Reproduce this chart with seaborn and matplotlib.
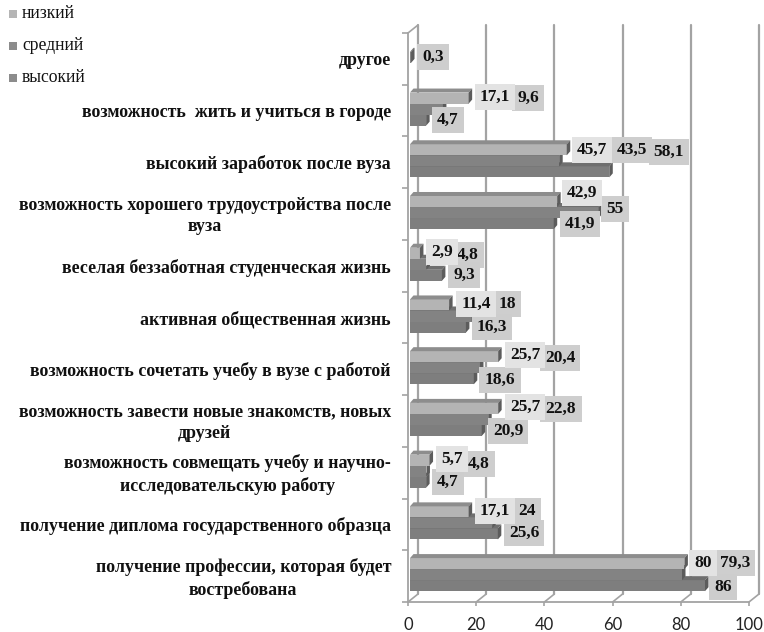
import numpy as np
import pandas as pd
import matplotlib
matplotlib.use("Agg")
import matplotlib.pyplot as plt
from matplotlib.patches import Polygon, Rectangle
import seaborn as sns

sns.set_style("white")
plt.rcParams['font.family'] = ['Liberation Serif', 'DejaVu Sans']

categories = [
    "другое",
    "возможность  жить и учиться в городе",
    "высокий заработок после вуза",
    "возможность хорошего трудоустройства после\nвуза",
    "веселая беззаботная студенческая жизнь",
    "активная общественная жизнь",
    "возможность сочетать учебу в вузе с работой",
    "возможность завести новые знакомств, новых\nдрузей",
    "возможность совмещать учебу и научно-\nисследовательскую работу",
    "получение диплома государственного образца",
    "получение профессии, которая будет\nвостребована",
]
low = [np.nan, 17.1, 45.7, 42.9, 2.9, 11.4, 25.7, 25.7, 5.7, 17.1, 80]
mid = [0.3, 9.6, 43.5, 55, 4.8, 18, 20.4, 22.8, 4.8, 24, 79.3]
high = [np.nan, 4.7, 58.1, 41.9, 9.3, 16.3, 18.6, 20.9, 4.7, 25.6, 86]
series = ["низкий", "средний", "высокий"]
x_ticks = [0, 20, 40, 60, 80, 100]

# label centres measured on the picture (px), labels were moved by hand there
low_pos = [None, (495, 97), (592, 150), (582, 193), (442, 252), (476, 304),
           (525, 355), (525, 407), (452, 459), (495, 511), (703, 563)]
mid_pos = [(433, 57), (528, 98), (632, 150), (615, 209), (468, 255), (507, 304),
           (560, 358), (561, 409), (479, 464), (527, 511), (735, 563)]
high_pos = [None, (448, 120), (669, 152), (580, 224), (464, 275), (492, 327),
            (500, 380), (508, 431), (448, 482), (524, 533), (723, 587)]

W, H = 764, 632
bar_colors = {"низкий": "#b4b4b4", "средний": "#838383", "высокий": "#7e7e7e"}
top_colors = {"низкий": "#8d8d8d", "средний": "#6f6f6f", "высокий": "#6f6f6f"}
side_color = "#5c5c5c"
box_colors = {"низкий": "#e3e3e3", "средний": "#cecece", "высокий": "#cdcdcd"}
box_order = {"средний": 10, "высокий": 11, "низкий": 12}
legend_colors = {"низкий": "#b5b5b5", "средний": "#8c8c8c", "высокий": "#8c8c8c"}
line_color = "#a3a3a3"


def axes_box(x0, x1, y_top, y_bottom):
    return [x0 / W, 1 - y_bottom / H, (x1 - x0) / W, (y_bottom - y_top) / H]


fig = plt.figure(figsize=(W / 100, H / 100), dpi=100)

# frame axes: front plane of the fake 3d box
ax = fig.add_axes(axes_box(408, 749, 33, 602))
ax.set_xlim(0, 100)
ax.set_ylim(len(categories) - 0.5, -0.5)
px_x = 100 / (749 - 408)
px_y = len(categories) / (602 - 33)
depth_x, depth_y = 10 * px_x, 8 * px_y
bottom, top = len(categories) - 0.5, -0.5

for s in ax.spines.values():
    s.set_visible(False)
for v in x_ticks:
    ax.plot([v + depth_x] * 2, [bottom - depth_y, top - depth_y], color=line_color, lw=1.6, clip_on=False, zorder=1)
    ax.plot([v, v + depth_x], [bottom, bottom - depth_y], color=line_color, lw=1.2, clip_on=False, zorder=1)
ax.plot([0, 100], [bottom, bottom], color=line_color, lw=1.3, clip_on=False, zorder=1)
ax.plot([0, 0], [bottom, top], color=line_color, lw=1.3, clip_on=False, zorder=1)
ax.plot([0, depth_x], [top, top - depth_y], color=line_color, lw=1.2, clip_on=False, zorder=1)

ax.set_xticks(x_ticks)
ax.set_xticklabels(x_ticks, fontsize=12, family="Lato", color="#222222")
ax.tick_params(axis="x", length=3, width=1.2, color=line_color, pad=7.5, bottom=True)
ax.set_yticks(np.arange(-0.5, len(categories), 1))
ax.set_yticklabels([])
ax.tick_params(axis="y", length=4, width=1.2, color=line_color, left=True)
for i, name in enumerate(categories):
    ax.annotate(name, xy=(0, i), xycoords="data", xytext=(-17, -2), textcoords="offset pixels",
                ha="right", va="center", multialignment="center", fontsize=12.85,
                fontweight="bold", color="#111111", linespacing=1.35)

# bars sit a little inside the box
data = pd.DataFrame({"category": categories, "низкий": low, "средний": mid, "высокий": high})
long_data = data.melt(id_vars="category", var_name="level", value_name="value")
bar_ax = fig.add_axes(axes_box(410, 753, 31.5, 600.5))
bar_ax.patch.set_alpha(0)
sns.barplot(data=long_data, y="category", x="value", hue="level", hue_order=series,
            order=categories, palette=bar_colors, width=0.64, gap=0, dodge=True,
            saturation=1, legend=False, ax=bar_ax, edgecolor="none", linewidth=0)
bar_ax.set_xlim(0, 100)
bar_ax.set_ylim(len(categories) - 0.5, -0.5)
bar_ax.axis("off")

bar_px_x = 100 / (753 - 410)
dx, dy = 3.5 * bar_px_x, 4 * px_y
for i, cont in enumerate(bar_ax.containers):
    name = series[i]
    z = 6 - i  # upper bar covers the top face of the one below it
    for p in cont:
        w = p.get_width()
        if not np.isfinite(w) or w == 0:
            continue
        y0 = p.get_y()
        y1 = y0 + p.get_height()
        p.set_zorder(z)
        bar_ax.add_patch(Polygon([(0, y0), (dx, y0 - dy), (w + dx, y0 - dy), (w, y0)],
                                 facecolor=top_colors[name], edgecolor="none", zorder=z, clip_on=False))
        bar_ax.add_patch(Polygon([(w, y0), (w + dx, y0 - dy), (w + dx, y1 - dy), (w, y1)],
                                 facecolor=side_color, edgecolor="none", zorder=z, clip_on=False))

# value labels
for name, vals, pos in [("низкий", low, low_pos), ("средний", mid, mid_pos), ("высокий", high, high_pos)]:
    for v, xy in zip(vals, pos):
        if xy is None:
            continue
        fig.text(xy[0] / W, 1 - xy[1] / H, f"{v:g}".replace(".", ","), ha="center", va="center",
                 fontsize=12.5, fontweight="bold", color="#111111", zorder=box_order[name],
                 bbox=dict(boxstyle="square,pad=0.3", facecolor=box_colors[name], edgecolor="none"))

# legend by hand, stacked on the left top
for name, y in zip(series, [14, 46, 78]):
    fig.add_artist(Rectangle((9 / W, 1 - (y + 4) / H), 8 / W, 8 / H, transform=fig.transFigure,
                             facecolor=legend_colors[name], edgecolor="none"))
    fig.text(22 / W, 1 - y / H, name, ha="left", va="center", fontsize=12.7, color="#111111")

fig.savefig("out.png", dpi=100, facecolor="white")
